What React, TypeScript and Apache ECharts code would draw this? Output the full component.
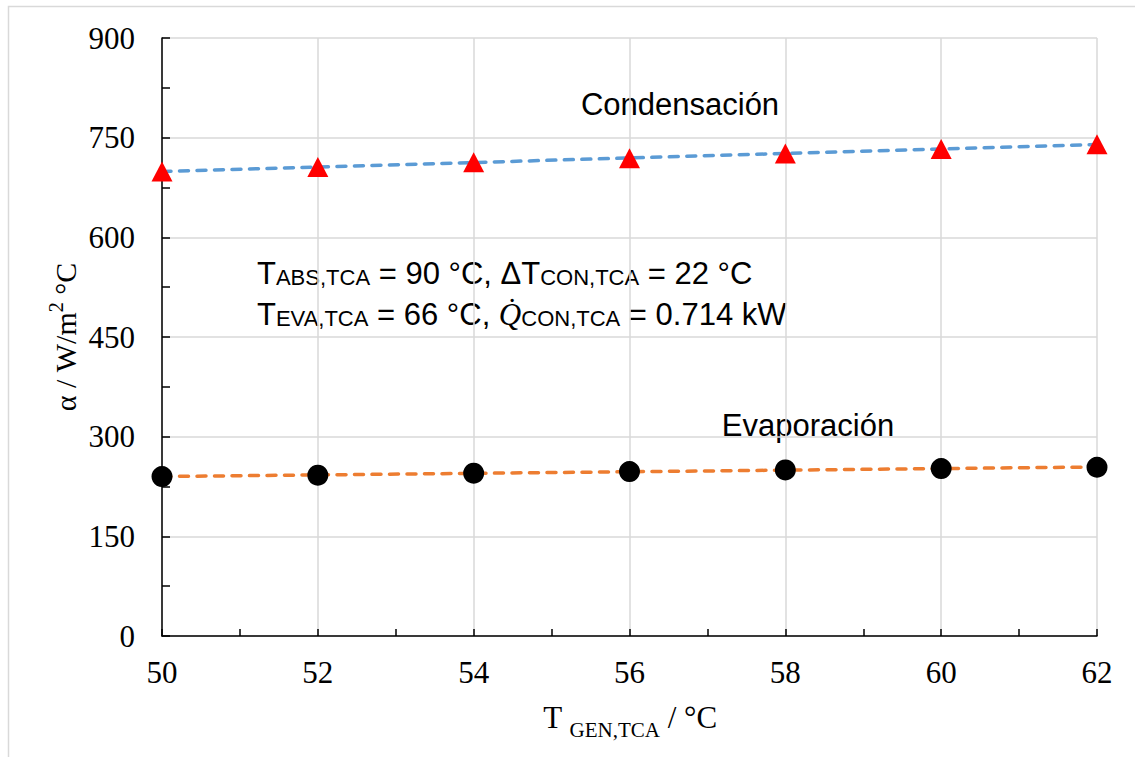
import React, { useEffect, useRef } from "react";
import * as echarts from "echarts";

// Generator temperature (°C)
const tGen = [50, 52, 54, 56, 58, 60, 62];
// Heat transfer coefficients (W/m² °C)
const condensacion = [699, 706, 713, 719, 726, 733, 740];
const evaporacion = [240, 242, 245, 247.5, 250, 252, 254];

const serif = "'Liberation Serif', 'Times New Roman', serif";
const sans = "'Liberation Sans', Arial, sans-serif";

// Least-squares straight line through the points, as a spreadsheet trendline
function linearTrend(xs: number[], ys: number[]): number[][] {
  const n = xs.length;
  const mx = xs.reduce((a, b) => a + b, 0) / n;
  const my = ys.reduce((a, b) => a + b, 0) / n;
  let sxy = 0;
  let sxx = 0;
  for (let i = 0; i < n; i++) {
    sxy += (xs[i] - mx) * (ys[i] - my);
    sxx += (xs[i] - mx) * (xs[i] - mx);
  }
  const slope = sxy / sxx;
  const icpt = my - slope * mx;
  const x0 = xs[0];
  const x1 = xs[n - 1];
  return [
    [x0, icpt + slope * x0],
    [x1, icpt + slope * x1],
  ];
}

export default function App() {
  const ref = useRef<HTMLDivElement>(null);

  useEffect(() => {
    if (!ref.current) return;
    const chart = echarts.init(ref.current, null, { renderer: "svg" });

    const dash = { type: [9, 8.5], cap: "round" as const, width: 3.5 };
    const mainRich = { fontFamily: sans, fontSize: 31, fill: "#000", verticalAlign: "bottom", lineHeight: 34 };
    const subRich = { fontFamily: sans, fontSize: 22, fill: "#000", verticalAlign: "bottom", lineHeight: 34, padding: [0, 0, 1, 0] };

    chart.setOption({
      animation: false,
      backgroundColor: "#ffffff",
      grid: { left: 162, top: 38, right: 38, bottom: 121 },
      xAxis: {
        type: "value",
        min: 50,
        max: 62,
        interval: 2,
        axisLine: { show: true, onZero: false, lineStyle: { color: "#000", width: 1.5 } },
        axisTick: { show: true, inside: true, length: 7, lineStyle: { color: "#000", width: 1.5 } },
        minorTick: { show: true, splitNumber: 2, length: 7, lineStyle: { color: "#000", width: 1.5 } },
        splitLine: { show: true, lineStyle: { color: "#d9d9d9", width: 1.5 } },
        axisLabel: { color: "#000", fontFamily: serif, fontSize: 31, margin: 21 },
      },
      yAxis: {
        type: "value",
        min: 0,
        max: 900,
        interval: 150,
        axisLine: { show: true, onZero: false, lineStyle: { color: "#000", width: 1.5 } },
        axisTick: { show: true, inside: true, length: 8, lineStyle: { color: "#000", width: 1.5 } },
        minorTick: { show: true, splitNumber: 2, length: 8, lineStyle: { color: "#000", width: 1.5 } },
        splitLine: { show: true, lineStyle: { color: "#d9d9d9", width: 1.5 } },
        axisLabel: { color: "#000", fontFamily: serif, fontSize: 31, margin: 27 },
      },
      series: [
        {
          type: "line",
          data: linearTrend(tGen, condensacion),
          showSymbol: false,
          lineStyle: { color: "#5b9bd5", ...dash },
          z: 2,
        },
        {
          type: "line",
          data: linearTrend(tGen, evaporacion),
          showSymbol: false,
          lineStyle: { color: "#ed7d31", ...dash },
          z: 2,
        },
        {
          type: "scatter",
          data: tGen.map((x, i) => [x, condensacion[i]]),
          symbol: "triangle",
          symbolSize: [21, 20],
          itemStyle: { color: "#ff0000", opacity: 1 },
          z: 3,
        },
        {
          type: "scatter",
          data: tGen.map((x, i) => [x, evaporacion[i]]),
          symbol: "circle",
          symbolSize: 21,
          itemStyle: { color: "#000000", opacity: 1 },
          z: 3,
        },
      ],
      graphic: [
        {
          type: "rect",
          silent: true,
          shape: { x: 8.5, y: 6.5, width: 1200, height: 800 },
          style: { fill: "none", stroke: "#d9d9d9", lineWidth: 1.5 },
          z: -10,
        },
        {
          type: "text",
          x: 680,
          y: 104,
          style: {
            text: "Condensación",
            fontFamily: sans,
            fontSize: 31,
            fill: "#000",
            align: "center",
            verticalAlign: "middle",
          },
        },
        {
          type: "text",
          x: 808,
          y: 425,
          style: {
            text: "Evaporación",
            fontFamily: sans,
            fontSize: 31,
            fill: "#000",
            align: "center",
            verticalAlign: "middle",
          },
        },
        {
          type: "text",
          x: 257,
          y: 272,
          style: {
            text: "{m|T}{s|ABS,TCA}{m| = 90 °C, ΔT}{s|CON,TCA}{m| = 22 °C}",
            align: "left",
            verticalAlign: "middle",
            rich: { m: mainRich, s: subRich },
          },
        },
        {
          type: "text",
          x: 257,
          y: 313,
          style: {
            text: "{m|T}{s|EVA,TCA}{m| = 66 °C, }{q|Q\u0307}{s|CON,TCA}{m| = 0.714 kW}",
            align: "left",
            verticalAlign: "middle",
            rich: {
              m: mainRich,
              s: subRich,
              q: { fontFamily: serif, fontStyle: "italic", fontSize: 31, fill: "#000", verticalAlign: "bottom", lineHeight: 34 },
            },
          },
        },
        {
          type: "text",
          x: 63,
          y: 337,
          rotation: Math.PI / 2,
          style: {
            text: "{m|α / W/m}{p|2}{m| °C}",
            align: "center",
            verticalAlign: "middle",
            rich: {
              m: { fontFamily: serif, fontSize: 30, fill: "#000", verticalAlign: "bottom", lineHeight: 34 },
              p: { fontFamily: serif, fontSize: 20, fill: "#000", verticalAlign: "top", lineHeight: 34 },
            },
          },
        },
        {
          type: "text",
          x: 630,
          y: 722,
          style: {
            text: "{m|T }{s|GEN,TCA}{m| / °C}",
            align: "center",
            verticalAlign: "middle",
            rich: {
              m: { fontFamily: serif, fontSize: 31, fill: "#000", verticalAlign: "bottom", lineHeight: 36, padding: [0, 0, 7, 0] },
              s: { fontFamily: serif, fontSize: 21, fill: "#000", verticalAlign: "bottom", lineHeight: 36 },
            },
          },
        },
      ],
    });

    return () => chart.dispose();
  }, []);

  return (
    <div
      ref={ref}
      style={{ position: "fixed", left: 0, top: 0, width: 1135, height: 757 }}
    />
  );
}
